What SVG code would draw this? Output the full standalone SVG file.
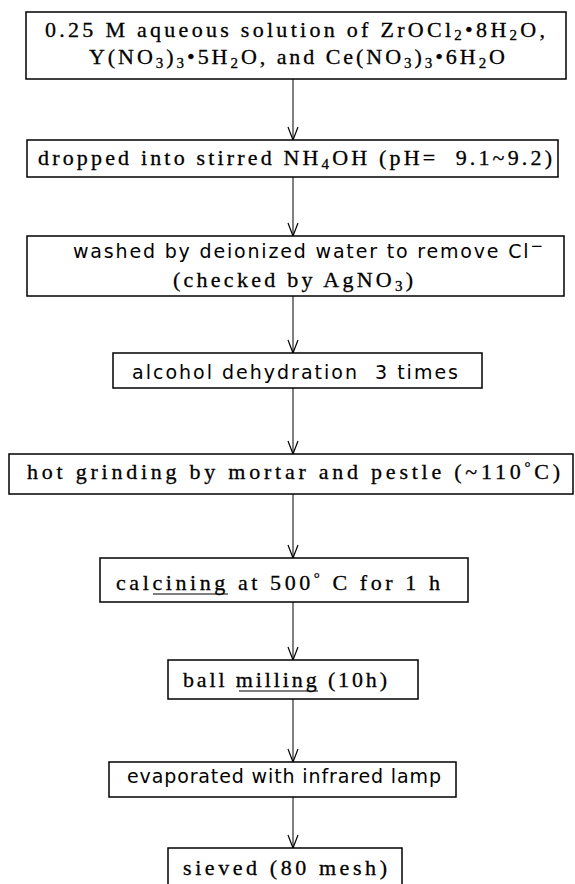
<svg xmlns="http://www.w3.org/2000/svg" width="575" height="884" viewBox="0 0 575 884">
<style>
.box{fill:#fff;stroke:#000;stroke-width:1.5}
.m{font-family:"Liberation Serif","Times New Roman",serif;font-size:22px;fill:#000;stroke:#000;stroke-width:0.3}
.s{font-family:"DejaVu Sans","Liberation Sans",sans-serif;font-size:19px;fill:#000}
.sub{font-size:15px}
.con{stroke:#000;stroke-width:1;fill:none}
.ul{stroke:#000;stroke-width:1.2}
</style>
<defs>
<marker id="ah" viewBox="-15 -7 16 14" refX="0" refY="0" markerWidth="16" markerHeight="14" markerUnits="userSpaceOnUse" orient="auto">
<path d="M-13,-5 L0,0 L-13,5" fill="none" stroke="#000" stroke-width="1.2"/>
</marker>
</defs>
<rect width="575" height="884" fill="#fff"/>
<g id="connectors">
<line class="con" x1="293" y1="79" x2="293" y2="140" marker-end="url(#ah)"/>
<line class="con" x1="293" y1="177" x2="293" y2="236" marker-end="url(#ah)"/>
<line class="con" x1="293" y1="296" x2="293" y2="353" marker-end="url(#ah)"/>
<line class="con" x1="293" y1="388" x2="293" y2="454" marker-end="url(#ah)"/>
<line class="con" x1="293" y1="494" x2="293" y2="558" marker-end="url(#ah)"/>
<line class="con" x1="293" y1="602" x2="293" y2="660" marker-end="url(#ah)"/>
<line class="con" x1="293" y1="699" x2="293" y2="762" marker-end="url(#ah)"/>
<line class="con" x1="293" y1="797" x2="293" y2="848" marker-end="url(#ah)"/>
</g>
<g id="n1">
<rect class="box" x="26" y="12" width="540" height="67"/>
<text class="m" x="45" y="37" textLength="500" lengthAdjust="spacing">0.25 M aqueous solution of ZrOCl<tspan class="sub" dy="3">2</tspan><tspan dy="-3">•8H</tspan><tspan class="sub" dy="3">2</tspan><tspan dy="-3">O,</tspan></text>
<text class="m" x="89" y="64" textLength="416" lengthAdjust="spacing">Y(NO<tspan class="sub" dy="4">3</tspan><tspan dy="-4">)</tspan><tspan class="sub" dy="4">3</tspan><tspan dy="-4">•5H</tspan><tspan class="sub" dy="4">2</tspan><tspan dy="-4">O, and Ce(NO</tspan><tspan class="sub" dy="4">3</tspan><tspan dy="-4">)</tspan><tspan class="sub" dy="4">3</tspan><tspan dy="-4">•6H</tspan><tspan class="sub" dy="4">2</tspan><tspan dy="-4">O</tspan></text>
</g>
<g id="n2">
<rect class="box" x="27" y="140" width="531" height="37"/>
<text class="m" x="38" y="165" textLength="514" lengthAdjust="spacing">dropped into stirred NH<tspan class="sub" dy="4">4</tspan><tspan dy="-4">OH (pH=&#160; 9.1~9.2)</tspan></text>
</g>
<g id="n3">
<rect class="box" x="27" y="236" width="537" height="60"/>
<text class="s" x="73" y="258" textLength="470" lengthAdjust="spacing">washed by deionized water to remove Cl<tspan class="sub" dy="-7">−</tspan></text>
<text class="m" x="173" y="287" textLength="240" lengthAdjust="spacing">(checked by AgNO<tspan class="sub" dy="4">3</tspan><tspan dy="-4">)</tspan></text>
</g>
<g id="n4">
<rect class="box" x="113" y="353" width="369" height="35"/>
<text class="s" x="132" y="379" textLength="326" lengthAdjust="spacing">alcohol dehydration&#160; 3 times</text>
</g>
<g id="n5">
<rect class="box" x="9" y="454" width="564" height="40"/>
<text class="m" x="27" y="479" textLength="533" lengthAdjust="spacing">hot grinding by mortar and pestle (~110<tspan class="sub" dy="-7">°</tspan><tspan dy="7">C)</tspan></text>
</g>
<g id="n6">
<rect class="box" x="100" y="558" width="368" height="44"/>
<text class="m" x="116" y="590" textLength="324" lengthAdjust="spacing">calcining at 500<tspan class="sub" dy="-7">°</tspan><tspan dy="7"> C for 1 h</tspan></text>
<line class="ul" x1="153" y1="594" x2="228" y2="594"/>
</g>
<g id="n7">
<rect class="box" x="168" y="660" width="250" height="39"/>
<text class="m" x="183" y="687" textLength="204" lengthAdjust="spacing">ball milling (10h)</text>
<line class="ul" x1="239" y1="691" x2="318" y2="691"/>
</g>
<g id="n8">
<rect class="box" x="109" y="762" width="347" height="35"/>
<text class="s" x="127" y="783" textLength="314" lengthAdjust="spacing">evaporated with infrared lamp</text>
</g>
<g id="n9">
<rect class="box" x="168" y="848" width="234" height="50"/>
<text class="m" x="183" y="875" textLength="204" lengthAdjust="spacing">sieved (80 mesh)</text>
</g>
</svg>
